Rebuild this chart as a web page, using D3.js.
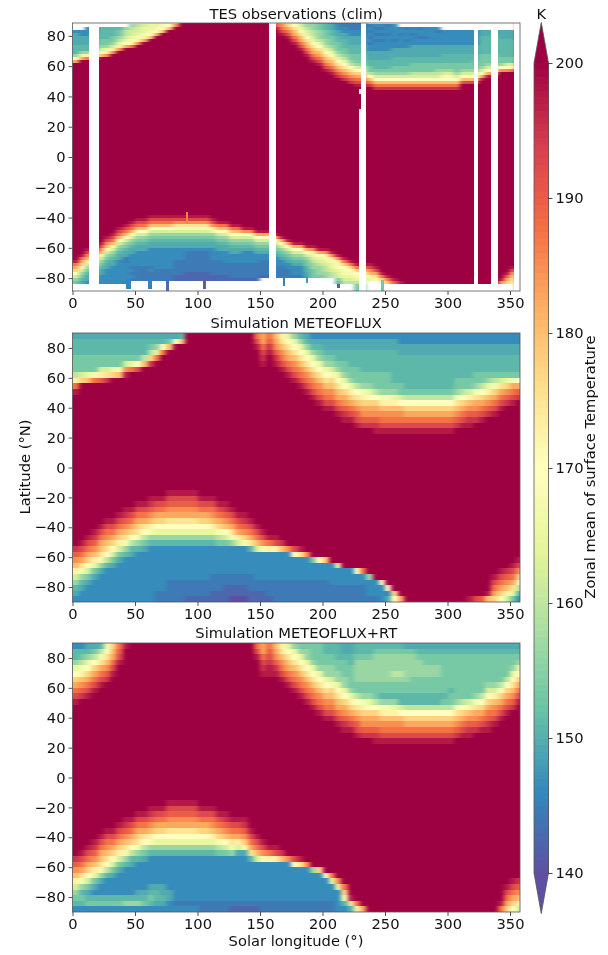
<!DOCTYPE html>
<html><head><meta charset="utf-8">
<script src="https://cdn.jsdelivr.net/npm/d3@7"></script>
<style>html,body{margin:0;padding:0;background:#fff}svg{display:block;filter:blur(0.3px)}text{font-family:"DejaVu Sans",sans-serif;fill:#111}</style>
</head><body><svg id="c" width="608" height="955"></svg>
<script>
// Temperature letters: each letter names one value of levelTemps; "."=200 K and above; "_"=no data.
const levels = "abcdefghijklmnopqrstuvwx";
const levelTemps = [140,142.5,144.5,146.5,149.5,151,153.5,156.5,160,162.5,165,167.5,170,172.5,175,177.5,180,182.5,185,187.5,190,192.5,195,197.5];
const colorStops = ["#5e4fa2","#3288bd","#66c2a5","#abdda4","#e6f598","#ffffbf","#fee08b","#fdae61","#f46d43","#d53e4f","#9e0142"];
const colorTicks = [140,150,160,170,180,190,200];
const lsTicks = [0,50,100,150,200,250,300,350];
const latTicks = [80,60,40,20,0,-20,-40,-60,-80];
const titles = ["TES observations (clim)","Simulation METEOFLUX","Simulation METEOFLUX+RT"];

// Columns are 5 degrees of solar longitude. North strings read from the top row down,
// south strings end on the bottom row.
const tesNorth = ["___deeeefffhmr","___ddeeeffhnr","__cddeeeffhnt","__ddeeefffinr","__ffffgghjmq","__ffffgghkns","__fffgghjns","__fgghikns","__hiijkmr","_hijjklnt","_ijjklns","_jkklnr","_kklmq","_klmr","_lmq","_mq","ns","","","","","","","","","","","","","","","","sux","qstvx","nprtvx","lmoqrtvx","ijkmoqrtvx","hhijkmoqrtvx","ghhiijkmoqrtvx","fgghhhikmoqrtvx","effggghhikmoqrtvx","deeffggghikmoqrtvx","cddeeffggghikmoqsuw","ccddeefffgghikmoqsuw","cccddeeefffgghimoqsuw","cccddeeefffggghjmprtvx","cccddeeefffggghjmprtvx","_cdcdcdcddeeeffggimqtw","_dcdcdcdddeeefffghjmqtw","_dcdcdcdddeeefffghjmqtw","_cddcdddddeeefffghjmqtw","_dddddcddeeefffgghjmqtw","__ddcddddeeefffgghjmqtw","__cdddcddeeefffgghjmqtw","__ddcdddeeeeffgggijmqtw","__cddcddeeeeffgggijmqtw","__dddcddeeeeffgggijmqtw","__ddddddeeeeffgggijmqtw","__dcddddeeeeffgghijmqtw","___dddddeeefffgghjlmqtw","___dddddeeefffgghjlmqtw","___dddddeeefffggghjmqtw","___dddddeeefffgghjmqv","___dddddeeefffgghjmqv","___dddddeeeffggghjmqv","___eeffffffgggghjmrx","___eeffffffggghjmrx","___eeffffffggghjmrx","___eeeffffffgghms","___eeeffffffggjms","___eeeffffffggjnt",""];
const tesSouth = ["xtrpmjhg___","xtrpmjhgfe___","xvsqmjhgfeed___","xvsqmjhgfeed___","xvsqmjhgfeeddd___","xvsqmjhgfeeddddd___","xvtqmjhgfeedddddd___","xvtqmjhgfeedddddddd___","xvtqmjhgfeeccddddddc___","xvtqmjhgfeeddddcdcdc____","xvtqmjhgfeedddddccccc____","xvtqmjhgfeedddddccccc____","xvtqmjhgfeeddddddcdccc____","xvtqmjhgfeedddddddcccc____","xvtqmjhgfeedddddddcccc____","xvtqmjhgfeedddddddcccc____","xvsoljhgfeeddddcccccbb____","xvsoljhgfeeddddcccccbb____","xvsoljhgfeedcccccccbbb____","xvsoljhgfeedcccccccbbb____","xvsoljhgfeedcccccccbbb____","xvsoljhgfeedcccccccbbb____","xvsnkhgfeeddddcccccbb____","xtqmjhgfeedddcccccbb____","xtqmjhgfeeddddccccbb____","xtqmjhgfeedddcccccb____","xtqmjhgfeedddcccccb____","xsmjhgfeddddcccccb____","xsmjhgfeddddcccccb____","xrmjhgfedddcccccb____","xrmjhgfeddcccccb_____","xrmjhgfeddcccccb_____","xrmjhgfedddcccc_____","xrmjhgfeddcccc_____","xrmjhgfeddccc_____","xrmjhgfedddc_____","xrmjhgfedddc_____","xrmjhggffee_____","xsnkjihhggg_____","xrmkjihhhg_____","xsnlkjiihh_____","xsnlkkjii_____","xsnllkjjgf___","xtpmllkji___","xtpmlkji___","xtpmlkiggf","xtpmlkiggf","xvsqnk____","xvrol____","xtpn___","xtq___","xu___","x___","___","___","___","___","___","___","___","___","___","___","___","___","___","___","___","xs___","xurp___","xurpon___",""];

const metNorth = ["efffgggintx","efffgggjp","efffgggkq","efffggglt","efffggjnu","efffggjow","efffggkp","efffgglq","efffgjsx","efffgkt","efffgmv","efffiq","efgipw","efhkt","efmt","egq","em","fq","","","","","","","","","","","","tvx","rrtvwx","tuwx","qrsuwx","noqstvx","kmoqrtvx","hkmoqstvx","fhkmoqstvx","efhkmoqstvx","defhkmoqstvx","defghkmoqstvx","deefghkmoqstvx","deefghjlpqstvx","deeffghkmoqrtvx","deeffgghkmprsuwx","deefffgghknprtvx","deefffgggimoqsuvx","deeffffgghlnprsuw","deeffffgghkmprsuw","deeffffgggimprsuwx","deeffffggghlnqstvx","deeffffggghlnqstvx","deeffffffghknqstvx","ddeefffffggjmqstvx","ddeeffffffgimprtvx","ddeeffffffgimprtvx","ddeeffffffgimprtvx","ddeeffffffgimprtvx","ddeeffffffgimprtvx","ddeeffffffgimprtvx","ddeeffffffgimprtvx","ddeeffffffgimprtvx","ddeeffffgghloqsuw","ddeeffffggimprtvx","ddeeffffggjnqsuwx","ddeefffgghlorsuw","ddeefffggimprtvx","ddeefffghknqsuw","ddeefffgilprtvx","ddeefffgjortvx","ddeefffgkpsuw","ddeefffglrtvx","ddeefffgmruw"];
const metSouth = ["wusqnjhfed","xvtrolhfedd","xvtrpmjgeddd","xwusqnkgedddd","xvtrqolheddddd","xvtsqomifdddddd","xvtrpmjgedddddd","xvtrpnjgeddddddd","xwusqolhfdddddddd","xvtrpmifedddddddd","xvtrpolhfddddddddd","xvtromigeddddddddd","xwusqnlhfdddddddddd","xvtrpmkhfddddddddcc","xvtrpmkhfddddddddcc","xvusromkhfddddddcccc","xvusromkhfddddddcccc","xvusromkhfddddddcccc","xvusromkhfddddddcccb","xvusromkhfddddddcccb","xvtrpmkhfddddddcccb","xvtrpmkhfddddddcccb","xvtsqnkhfdddddcccbb","xvtrpligdddddcccbb","xwusqmjgdddddccbbb","xvtrolhdddddccbba","xvtrnjdddddccbba","xwuspldddddccbba","xvtrofddddcccbb","xvtqjdddddccbb","xvsldddddccbb","xtndddddcccb","xvndddddcccc","wqdddddcccc","sdddddcccc","vmddddcccc","xoddddcccc","sddddcccc","gdddcccc","mdddcccc","qdddcccc","ddddccc","kdddccc","dddccc","dddccc","mddccc","tddccc","hdddc","dddc","mddd","mde","pm","r","","","","","","","","","","","x","v","u","xq","xvtrp","xvtrpm","wusqnj","xvtrokg","xvspmifd"];

const rtNorth = ["dffhkmprtvx","dfgilnqsuw","efhkmprtvx","egimprtvx","filortvx","lmoqsuw","pqrtvx","tuvx","x","","","","","","","","","","","","","","","","","","","","","tvx","rrtvwx","tuvwxx","qrsuwx","noqstvx","kmoqrtvx","hkmoqstvx","ghkmoqstvx","ghhkmoqstvx","ggghkmoqstvx","gggghkmoqstvx","ffgghhkmoqstvx","ffgghhjlpqstvx","fffgghhkmoqrtvx","eefggghhkmprsuwx","eeffgggghknprtvx","ffghhhhggimoqsuvx","ffghhhhgghlnprsuw","ffghhhhgghkmprsuw","fghhhhhgggimprsuwx","fghhhhhggfhlnqstvx","fghhhhhggfhlnqstvx","fghhhihggfhknqstvx","fghhhihggffjmqstvx","eghhhhhggffimprtvx","eghhhhgggffimprtvx","efghhhgggffimprtvx","efgghhgggffimprtvx","efgghhgggffimprtvx","efgghhgggffimprtvx","efgggggggfgimprtvx","efggggggfggimprtvx","efgggggggghloqsuw","efggggggggimprtvx","efggggggggjnqsuwx","efggggggghlorsuw","efgggggggimprtvx","efggggghjmprtuwx","efggggghjnqstvx","efgggggimprtvx","efggggimprtvx","efgghkmoqsuw","efghkmprtvx"];
const rtSouth = ["wusqnjhgfd","xvtrolhfgfd","xvtrpmjgefgd","xwusqnkgedfgd","xvtrqolheddfgd","xvtsqomifdddfgd","xvtrpmjgedddfgd","xvtrpnjgeddddfgd","xwusqolhfdddddfhd","xvtrpmifedddddfhd","xvtrpolhfdddddefhd","xvtromigedddddefgd","xwusqnlhfdddddefgfd","xvtrpmkhfdddddeffed","xvtrpmkhfdddddeefed","xvusromkhfddddddeedd","xvusromkhfddddddddcd","xvusromkhfddddddddcd","xvusromkhfddddddddcd","xvusromkhfddddddddcd","xvtrpmkhfddddddddcc","xvtrpmkhfddddddddcc","xvtsqnkhfddddddddcc","xvtrpligddddddddcc","xwusqmjgddddddddcc","xvtrolhddddddddcb","xvtrnjeddddddddcb","xwuspleddddddddcb","xvtrofdddddddcb","xvtqjdddddddcb","xvsldddddddcc","xtndddddddcc","xvndddddddcc","wqdddddddcc","sdddddddcc","vmddddddcc","xoddddddcc","sddddddcc","hdddddcc","pdddddcc","mddddcc","tkdddcc","skdddd","tplfd","xof","tl","r","","","","","","","","","","","","","","","","","","","","","","xt","xvtrp","xvtrpm","wusqnj","xvtrokg","xvspmifd"];

// White stripes where TES has no coverage: [Ls from, Ls to, lat top, lat bottom]
const tesGaps = [[13.3,21.3,90,-90],[157,163,90,-90],[230.6,234.6,90,-90],[229,230.6,31.6,-90],[229,230.6,45,41.5],[321,324.5,90,-90],[334.6,340.4,90,-90],[353,358,90,-90]];
// Thin single-bin TES features: [Ls from, Ls to, lat top, lat bottom, temperature]
const tesTips = [[91,92.5,-36,-44,186],[43,47,-81,-87,146],[60,63.5,-81,-87,145],[75,77,-81,-88.5,143],[104,106.5,-81,-87,142],[168,170,-79,-85,145],[186.5,188.5,-79,-83,148],[211.5,214,-84,-86.5,142],[247,249,-81,-88.5,153]];

const svg = d3.select("#c");
const defs = svg.append("defs");
const blur = defs.append("filter").attr("id","soft").attr("x","-5%").attr("y","-5%").attr("width","110%").attr("height","110%").attr("color-interpolation-filters","sRGB");
blur.append("feGaussianBlur").attr("stdDeviation","2 0.7");
const W = [72.5,520];
const x = d3.scaleLinear().domain([0,358]).range(W);
const colorOf = d3.scaleLinear().domain(d3.range(11).map(i=>140+6*i)).range(colorStops).interpolate(d3.interpolateRgb).clamp(true);
const tempOf = ch => ch==="." ? 200 : levelTemps[levels.indexOf(ch)];

function expand(north,south,nRows){
  const out=[];
  north.forEach((n,c)=>{
    const s=south[c], col=new Array(nRows).fill(".");
    for(let i=0;i<n.length;i++) col[i]=n[i];
    for(let i=0;i<s.length;i++) col[nRows-s.length+i]=s[i];
    col.forEach((ch,r)=>{ if(ch!=="_") out.push({c,r,ch}); });
  });
  return out;
}

function panel(idx,north,south,nRows,latMax,top,bottom,gaps,tips,titleGap){
  const y=d3.scaleLinear().domain([-latMax,latMax]).range([bottom,top]);
  const rowDeg=180/nRows, pad=12;
  const cid="clip"+idx;
  svg.append("clipPath").attr("id",cid).append("rect").attr("x",W[0]).attr("y",top).attr("width",W[1]-W[0]).attr("height",bottom-top);
  const g=svg.append("g").attr("clip-path",`url(#${cid})`);
  const inner=g.append("g").attr("filter","url(#soft)").append("g").attr("shape-rendering","crispEdges");
  inner.selectAll("rect").data(expand(north,south,nRows)).join("rect")
    .attr("x",d=>x(d.c*5)-(d.c===0?pad:0))
    .attr("width",d=>x((d.c+1)*5)-x(d.c*5)+(d.c===0?pad:0)+(d.c===71?pad:0))
    .attr("y",d=>y(90-d.r*rowDeg)-(d.r===0?pad:0))
    .attr("height",d=>y(90-(d.r+1)*rowDeg)-y(90-d.r*rowDeg)+(d.r===0?pad:0)+(d.r===nRows-1?pad:0))
    .attr("fill",d=>colorOf(tempOf(d.ch)));
  const sharp=g.append("g").attr("shape-rendering","crispEdges");
  sharp.selectAll("rect.tip").data(tips).join("rect").attr("class","tip")
    .attr("x",d=>x(d[0])).attr("width",d=>x(d[1])-x(d[0]))
    .attr("y",d=>y(d[2])).attr("height",d=>y(d[3])-y(d[2]))
    .attr("fill",d=>colorOf(d[4]));
  sharp.selectAll("rect.gap").data(gaps).join("rect").attr("class","gap")
    .attr("x",d=>x(d[0])).attr("width",d=>x(d[1])-x(d[0]))
    .attr("y",d=>y(Math.min(d[2],latMax))).attr("height",d=>y(Math.max(d[3],-latMax))-y(Math.min(d[2],latMax)))
    .attr("fill","#fff");
  const ax=svg.append("g").attr("transform",`translate(0,${bottom})`)
    .call(d3.axisBottom(x).tickValues(lsTicks).tickSize(4).tickPadding(3).tickFormat(d3.format("d")));
  const ay=svg.append("g").attr("transform",`translate(${W[0]},0)`)
    .call(d3.axisLeft(y).tickValues(latTicks).tickSize(4).tickPadding(3).tickFormat(d=>d<0?"\u2212"+(-d):d));
  [ax,ay].forEach(a=>{a.selectAll("text").attr("font-size",14.7).attr("fill","#111");
    a.selectAll("line").attr("stroke","#222").attr("stroke-width",.8); a.select(".domain").remove();});
  svg.append("rect").attr("x",W[0]).attr("y",top).attr("width",W[1]-W[0]).attr("height",bottom-top)
    .attr("fill","none").attr("stroke","#555").attr("stroke-width",.8);
  svg.append("text").attr("x",(W[0]+W[1])/2).attr("y",top-titleGap).attr("text-anchor","middle").attr("font-size",14.7).text(titles[idx]);
}

panel(0,tesNorth,tesSouth,90,88.5,23,291,tesGaps,tesTips,4);
panel(1,metNorth,metSouth,48,90,333,602,[],[],5);
panel(2,rtNorth,rtSouth,48,90,643,912,[],[],5);

svg.append("text").attr("transform","translate(30,467) rotate(-90)").attr("text-anchor","middle").attr("font-size",14.7).text("Latitude (°N)");
svg.append("text").attr("x",296).attr("y",946).attr("text-anchor","middle").attr("font-size",14.7).text("Solar longitude (°)");

// colorbar
const cb=d3.scaleLinear().domain([140,200]).range([873,63]);
const cbX=[534,548.5];
const cbg=svg.append("g");
cbg.append("g").attr("shape-rendering","crispEdges").selectAll("rect").data(d3.range(140,200,0.5)).join("rect")
  .attr("x",cbX[0]).attr("width",cbX[1]-cbX[0]).attr("y",d=>cb(d+.5)).attr("height",d=>cb(d)-cb(d+.5)+.5).attr("fill",d=>colorOf(d+.25));
const apexT=cb(203),apexB=cb(137),mid=(cbX[0]+cbX[1])/2;
cbg.append("path").attr("d",`M${cbX[0]},${cb(200)}L${mid},${apexT}L${cbX[1]},${cb(200)}Z`).attr("fill",colorOf(200));
cbg.append("path").attr("d",`M${cbX[0]},${cb(140)}L${mid},${apexB}L${cbX[1]},${cb(140)}Z`).attr("fill",colorOf(140));
cbg.append("path").attr("d",`M${cbX[0]},${cb(200)}L${mid},${apexT}L${cbX[1]},${cb(200)}L${cbX[1]},${cb(140)}L${mid},${apexB}L${cbX[0]},${cb(140)}Z`)
  .attr("fill","none").attr("stroke","#555").attr("stroke-width",.8);
const ac=svg.append("g").attr("transform",`translate(${cbX[1]},0)`)
  .call(d3.axisRight(cb).tickValues(colorTicks).tickSize(4).tickPadding(3).tickFormat(d3.format("d")));
ac.selectAll("text").attr("font-size",14.7).attr("fill","#111");
ac.selectAll("line").attr("stroke","#222").attr("stroke-width",.8); ac.select(".domain").remove();
svg.append("text").attr("x",mid).attr("y",19).attr("text-anchor","middle").attr("font-size",14.7).text("K");
svg.append("text").attr("transform","translate(595,467) rotate(-90)").attr("text-anchor","middle").attr("font-size",14.7).text("Zonal mean of surface Temperature");
</script></body></html>
